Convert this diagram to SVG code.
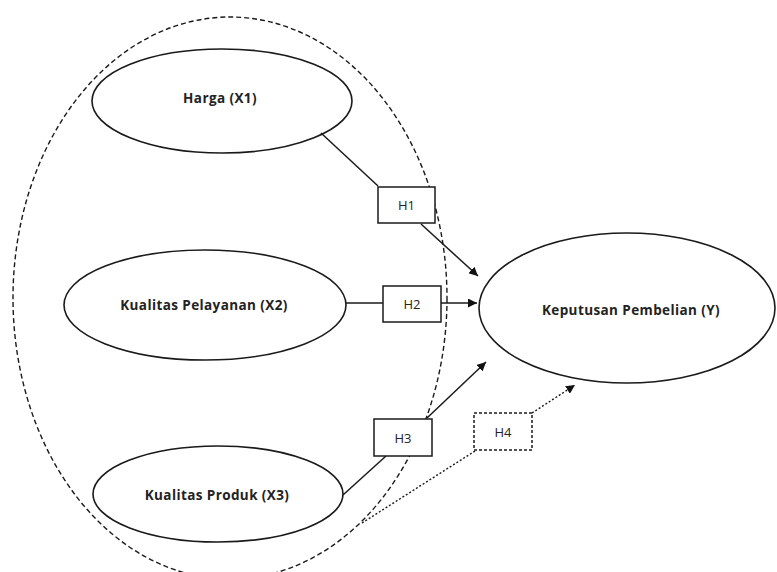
<svg xmlns="http://www.w3.org/2000/svg" width="777" height="572" viewBox="0 0 777 572">
<style>
.node{fill:#fff;stroke:#1a1a1a;stroke-width:1.6}
.lbl{font-family:"Open Sans","DejaVu Sans",sans-serif;font-size:13.5px;font-weight:bold;letter-spacing:0.4px;fill:#222;text-anchor:middle;dominant-baseline:central}
.hl{font-family:"Open Sans","DejaVu Sans",sans-serif;font-size:13px;fill:#222;text-anchor:middle;dominant-baseline:central}
.box{fill:#fff;stroke:#1a1a1a;stroke-width:1.5}
.conn{fill:none;stroke:#1a1a1a;stroke-width:1.5}
.dot{fill:none;stroke:#1a1a1a;stroke-width:1.4;stroke-dasharray:2 2}
</style>
<defs>
<marker id="ah" viewBox="0 0 10 10" refX="10" refY="5" markerWidth="9" markerHeight="9" markerUnits="userSpaceOnUse" orient="auto">
<path d="M0,0 L10,5 L0,10 z" fill="#111"/>
</marker>
</defs>
<rect width="777" height="572" fill="#fff"/>
<g id="group-x">
<ellipse cx="230" cy="298" rx="217" ry="281" fill="none" stroke="#1a1a1a" stroke-width="1.4" stroke-dasharray="5 3"/>
</g>
<g id="harga">
<ellipse class="node" cx="222" cy="101" rx="130" ry="52"/>
<text class="lbl" x="220" y="98">Harga (X1)</text>
</g>
<g id="pelayanan">
<ellipse class="node" cx="205" cy="305" rx="141" ry="55"/>
<text class="lbl" x="204" y="305">Kualitas Pelayanan (X2)</text>
</g>
<g id="produk">
<ellipse class="node" cx="218" cy="494" rx="125" ry="48"/>
<text class="lbl" x="217" y="495">Kualitas Produk (X3)</text>
</g>
<g id="keputusan">
<ellipse class="node" cx="627" cy="308" rx="148" ry="75"/>
<text class="lbl" x="631" y="310">Keputusan Pembelian (Y)</text>
</g>
<g id="connectors">
<line class="conn" x1="321" y1="133" x2="378" y2="186"/>
<line class="conn" x1="421" y1="224" x2="478" y2="276" marker-end="url(#ah)"/>
<line class="conn" x1="346" y1="303" x2="383" y2="303"/>
<line class="conn" x1="441" y1="303" x2="477" y2="303" marker-end="url(#ah)"/>
<line class="conn" x1="343" y1="495" x2="386" y2="456"/>
<line class="conn" x1="427" y1="418" x2="486" y2="362" marker-end="url(#ah)"/>
<line class="dot" x1="362" y1="523" x2="475" y2="451"/>
<line class="dot" x1="532" y1="413" x2="575" y2="385" marker-end="url(#ah)"/>
</g>
<g id="h1">
<rect class="box" x="378" y="187" width="57" height="36"/>
<text class="hl" x="406.5" y="205">H1</text>
</g>
<g id="h2">
<rect class="box" x="383" y="286" width="58" height="36"/>
<text class="hl" x="412" y="304">H2</text>
</g>
<g id="h3">
<rect class="box" x="374" y="419" width="58" height="37"/>
<text class="hl" x="403" y="437.5">H3</text>
</g>
<g id="h4">
<rect class="box" x="474" y="413" width="58" height="37" stroke-dasharray="3 2"/>
<text class="hl" x="503" y="431.5">H4</text>
</g>
</svg>
